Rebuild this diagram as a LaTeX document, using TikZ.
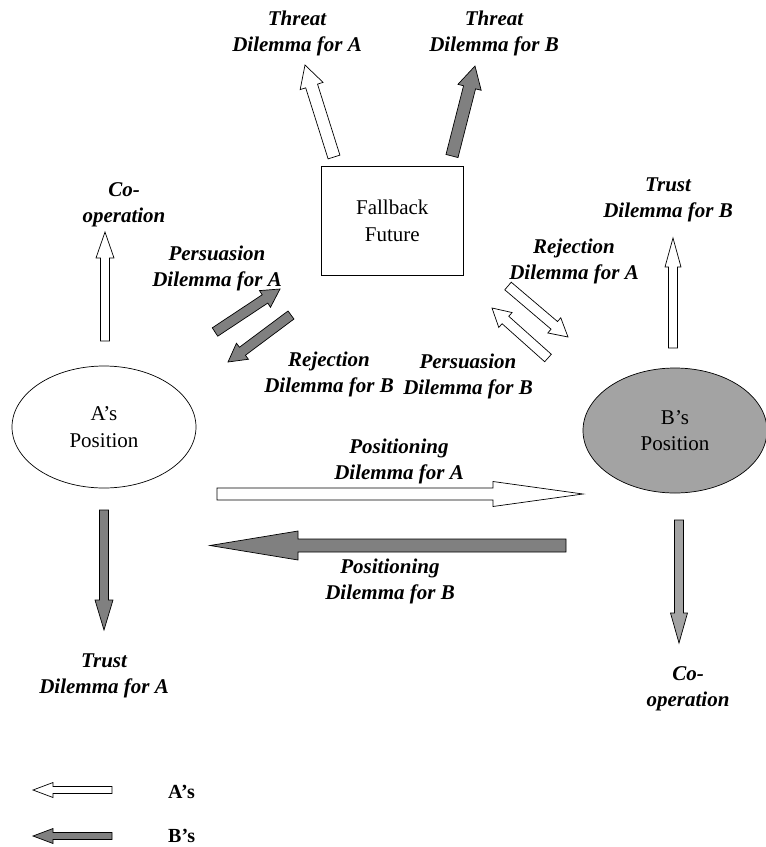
\documentclass[tikz,border=0pt]{standalone}
\usepackage{fontspec}
\setmainfont{Liberation Serif}
\usetikzlibrary{calc,shapes.geometric}

\definecolor{darkfill}{HTML}{808080}
\definecolor{midfill}{HTML}{A3A3A3}

\tikzset{
  lbl/.style={font=\bfseries\itshape\fontsize{21}{26}\selectfont, align=center, inner sep=0pt},
  plain/.style={font=\fontsize{21}{26.5}\selectfont, align=center, inner sep=0pt},
  key/.style={font=\bfseries\fontsize{20}{24}\selectfont, anchor=base west, inner sep=0pt},
  awhite/.style={draw=black, fill=white, line width=0.7pt, line join=miter},
  adark/.style={draw=black, fill=darkfill, line width=0.7pt, line join=miter},
  amid/.style={draw=black, fill=midfill, line width=0.7pt, line join=miter},
}

% block arrow: style, tail, tip, half shaft width, half head width, head length
\newcommand\blockarrow[6]{%
  \coordinate (hb) at ($(#3)!#6!(#2)$);
  \draw[#1] ($(#2)!#4!90:(#3)$) -- ($(hb)!#4!90:(#3)$) -- ($(hb)!#5!90:(#3)$)
    -- (#3) -- ($(hb)!#5!-90:(#3)$) -- ($(hb)!#4!-90:(#3)$) -- ($(#2)!#4!-90:(#3)$) -- cycle;
}

\begin{document}
\begin{tikzpicture}[x=1pt, y=-1pt]
\useasboundingbox (0,0) rectangle (766,847);

% main nodes
\node[draw, line width=0.7pt, minimum width=142, minimum height=108.5, plain] (fb) at (392.3,220.8) {Fallback\\Future};
\node[draw, ellipse, line width=0.7pt, minimum width=184, minimum height=122, plain] (pa) at (104,427) {A's\\Position};
\node[draw, ellipse, fill=midfill, line width=0.7pt, minimum width=184, minimum height=125, plain] (pb) at (675,430.5) {B's\\Position};

% labels
\node[lbl] (lthA) at (297,33) {Threat\\Dilemma for A};
\node[lbl] (lthB) at (494,33) {Threat\\Dilemma for B};
\node[lbl] (lcoA) at (124,205) {Co-\\operation};
\node[lbl] (ltrB) at (668,200) {Trust\\Dilemma for B};
\node[lbl] (lrjA) at (574,261) {Rejection\\Dilemma for A};
\node[lbl] (lpeA) at (217,268) {Persuasion\\Dilemma for A};
\node[lbl] (lrjB) at (329,374) {Rejection\\Dilemma for B};
\node[lbl] (lpeB) at (468,376) {Persuasion\\Dilemma for B};
\node[lbl] (lpoA) at (399,461) {Positioning\\Dilemma for A};
\node[lbl] (lpoB) at (390,581) {Positioning\\Dilemma for B};
\node[lbl] (ltrA) at (104,676) {Trust\\Dilemma for A};
\node[lbl] (lcoB) at (688,689) {Co-\\operation};

% arrow end points
\coordinate (thAt) at (334,157); \coordinate (thAh) at (305,65);
\coordinate (thBt) at (452,156); \coordinate (thBh) at (475,66);
\coordinate (coAt) at (105,341); \coordinate (coAh) at (105,232);
\coordinate (peAt) at (215,332); \coordinate (peAh) at (280,289);
\coordinate (rjBt) at (291,315); \coordinate (rjBh) at (228,362);
\coordinate (rjAt) at (508,286); \coordinate (rjAh) at (568,337);
\coordinate (peBt) at (548,358); \coordinate (peBh) at (492,308);
\coordinate (poAt) at (217,494); \coordinate (poAh) at (583,494);
\coordinate (poBt) at (566,545.5); \coordinate (poBh) at (210,545.5);
\coordinate (trAt) at (104,510); \coordinate (trAh) at (104,630);
\coordinate (coBt) at (679,520); \coordinate (coBh) at (679,643);
\coordinate (trBt) at (673,348); \coordinate (trBh) at (673,238);

\blockarrow{awhite}{thAt}{thAh}{6.2pt}{12pt}{22pt}
\blockarrow{adark}{thBt}{thBh}{6.2pt}{12pt}{22pt}
\blockarrow{awhite}{coAt}{coAh}{4.5pt}{9pt}{26pt}
\blockarrow{adark}{peAt}{peAh}{5pt}{10pt}{18pt}
\blockarrow{adark}{rjBt}{rjBh}{5pt}{10pt}{18pt}
\blockarrow{awhite}{rjAt}{rjAh}{5pt}{10pt}{18pt}
\blockarrow{awhite}{peBt}{peBh}{5pt}{10pt}{18pt}
\blockarrow{awhite}{poAt}{poAh}{6pt}{12.5pt}{90pt}
\blockarrow{adark}{poBt}{poBh}{6.5pt}{14.5pt}{88pt}
\blockarrow{adark}{trAt}{trAh}{4.5pt}{9pt}{30pt}
\blockarrow{amid}{coBt}{coBh}{4.5pt}{8.5pt}{30pt}
\blockarrow{awhite}{trBt}{trBh}{4.5pt}{8pt}{29pt}

% legend
\coordinate (lgAt) at (112,790); \coordinate (lgAh) at (33,790);
\coordinate (lgBt) at (112,836); \coordinate (lgBh) at (33,836);
\blockarrow{awhite}{lgAt}{lgAh}{3.5pt}{7.5pt}{20pt}
\blockarrow{adark}{lgBt}{lgBh}{3.5pt}{7.5pt}{20pt}
\node[key] (kA) at (168,798) {A's};
\node[key] (kB) at (168,842) {B's};
\end{tikzpicture}
\end{document}
